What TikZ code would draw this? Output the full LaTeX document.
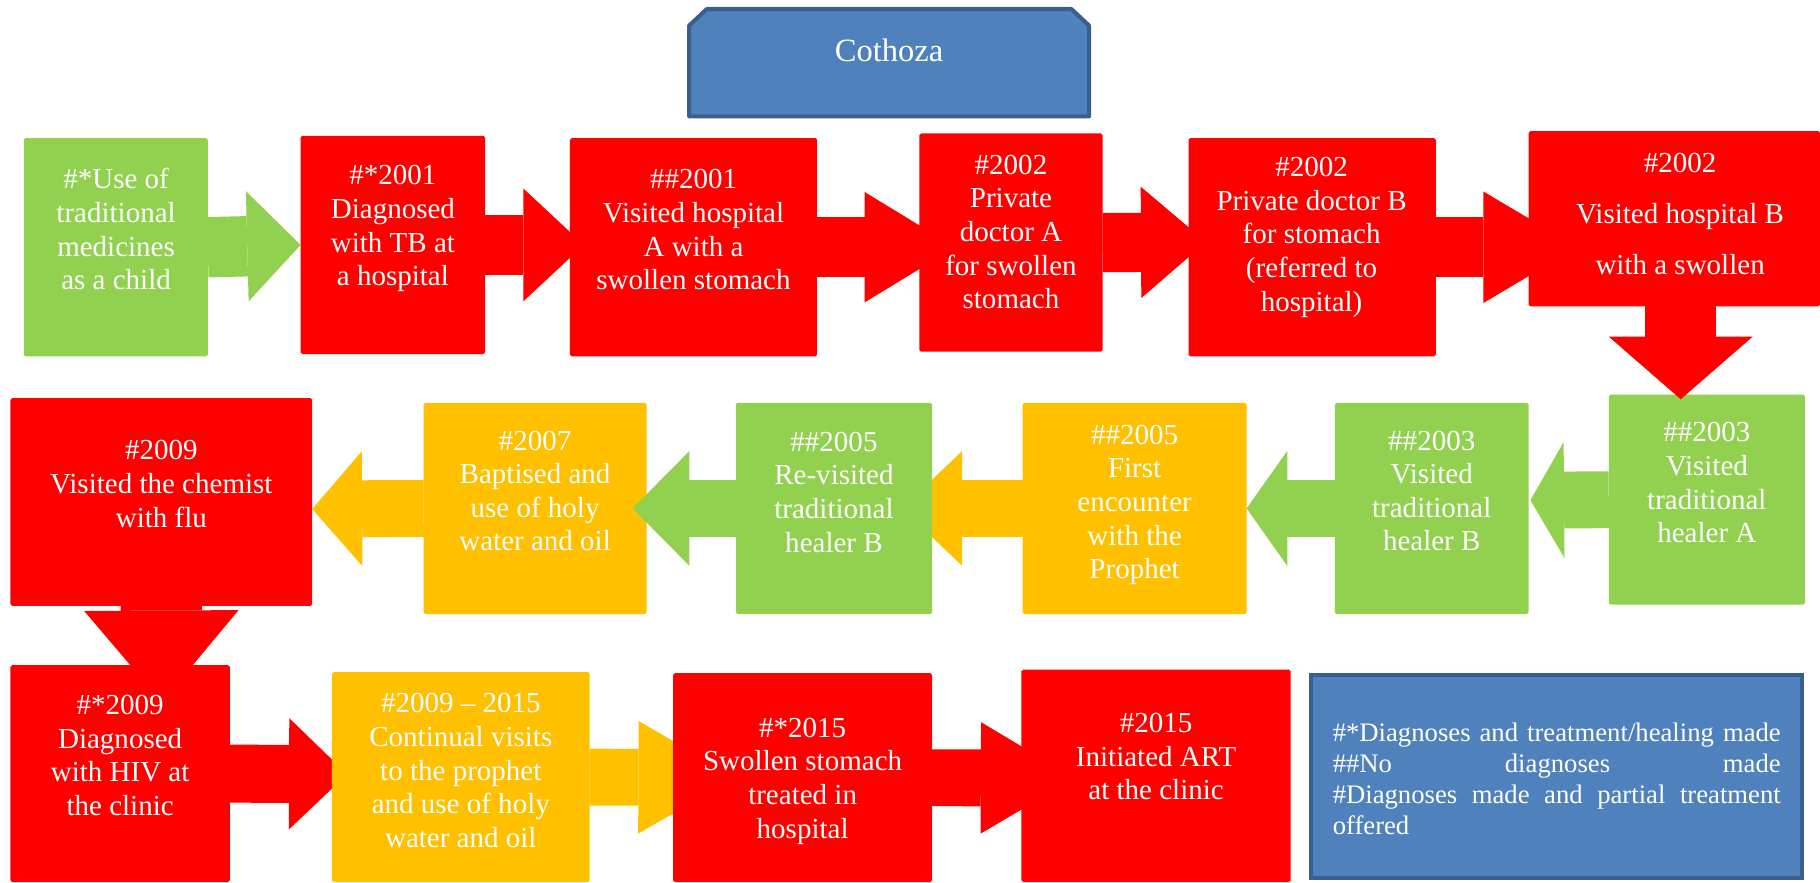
\documentclass[tikz,border=0pt]{standalone}
\usepackage{fontspec}
\setmainfont{Liberation Serif}
\usetikzlibrary{arrows.meta}
\definecolor{cred}{HTML}{FF0000}
\definecolor{cgreen}{HTML}{92D050}
\definecolor{corange}{HTML}{FFC000}
\definecolor{cblue}{HTML}{4F81BD}
\definecolor{cbord}{HTML}{3A5F8C}
\pgfdeclarelayer{back}
\pgfsetlayers{back,main}
\begin{document}
\begin{tikzpicture}[x=1pt,y=-1pt,
  blk/.style={rounded corners=1.5pt, inner sep=0pt, outer sep=0pt, anchor=north west, draw=none},
  txt/.style={text=white, align=center, inner sep=0pt, font=\fontsize{25}{29}\selectfont},
  barrow/.style n args={4}{draw=#1, line width=#2, -{Triangle[length=#3,width=#4,line width=0pt]}},
]
\useasboundingbox (0,0) rectangle (1568,760);

% ---------- title ----------
\draw[line width=3.5pt, draw=cbord, fill=cblue, line join=round]
  (593.75,100.25) -- (593.75,22) -- (609,7.75) -- (923,7.75) -- (938.25,22) -- (938.25,100.25) -- cycle;
\node[text=white, inner sep=0pt, font=\fontsize{28}{32}\selectfont] (title) at (766,43) {Cothoza};

% ---------- row 1 boxes ----------
\node[blk, fill=cgreen, minimum width=158.5pt, minimum height=188pt] (b1) at (20.5,119) {};
\node[blk, fill=cred, minimum width=159pt, minimum height=188pt] (b2) at (259,117) {};
\node[blk, fill=cred, minimum width=213pt, minimum height=188pt] (b3) at (491,119) {};
\node[blk, fill=cred, minimum width=158pt, minimum height=188pt] (b4) at (792,115) {};
\node[blk, fill=cred, minimum width=213pt, minimum height=188pt] (b5) at (1024,119) {};
\node[blk, fill=cred, minimum width=251pt, minimum height=151pt] (b6) at (1317,113) {};

% ---------- row 2 boxes ----------
\node[blk, fill=cgreen, minimum width=169pt, minimum height=181pt] (c1) at (1386,340) {};
\node[blk, fill=cgreen, minimum width=167pt, minimum height=182pt] (c2) at (1150,347) {};
\node[blk, fill=corange, minimum width=193pt, minimum height=182pt] (c3) at (881,347) {};
\node[blk, fill=cgreen, minimum width=169pt, minimum height=182pt] (c4) at (634,347) {};
\node[blk, fill=corange, minimum width=192pt, minimum height=182pt] (c5) at (365,347) {};
\node[blk, fill=cred, minimum width=260pt, minimum height=179pt] (c6) at (9,343) {};

% ---------- row 3 boxes ----------
\node[blk, fill=cred, minimum width=189pt, minimum height=187pt] (d1) at (9,573) {};
\node[blk, fill=corange, minimum width=222pt, minimum height=181pt] (d2) at (286,579) {};
\node[blk, fill=cred, minimum width=223pt, minimum height=180pt] (d3) at (580,580) {};
\node[blk, fill=cred, minimum width=232pt, minimum height=183pt] (d4) at (880,577) {};

% ---------- legend ----------
\node[draw=cbord, line width=3pt, fill=cblue, anchor=north west, inner sep=0pt,
      minimum width=423pt, minimum height=175pt] (leg) at (1128,580) {};

% ---------- arrows behind boxes ----------
\begin{pgfonlayer}{back}
\draw[barrow={cgreen}{52pt}{46pt}{95pt}] (b1.east) -- (b2.west);
\draw[barrow={cred}{51pt}{52pt}{97pt}] (b2.east) -- ([xshift=12pt,yshift=2pt]b3.west);
\draw[barrow={cred}{52pt}{78pt}{95pt}] (b3.east) -- ([xshift=31pt,yshift=-4pt]b4.west);
\draw[barrow={cred}{51pt}{56pt}{96pt}] (b4.east) -- ([xshift=15pt,yshift=4.5pt]b5.west);
\draw[barrow={cred}{52pt}{81pt}{96pt}] (b5.east) -- ([xshift=42pt,yshift=-24.5pt]b6.west);

\draw[barrow={cgreen}{49pt}{29pt}{100pt}] (c1.west) -- ([xshift=1.5pt,yshift=7pt]c2.east);
\draw[barrow={cgreen}{49pt}{35pt}{99pt}] (c2.west) -- (c3.east);
\draw[barrow={corange}{49pt}{52pt}{99pt}] (c3.west) -- ([xshift=-26pt]c4.east);
\draw[barrow={corange}{49pt}{43pt}{99pt}] (c5.west) -- ([yshift=-6pt]c6.east);
\draw[barrow={cred}{70pt}{79pt}{133pt}] (c6.south) -- ([xshift=36pt,yshift=-32pt]d1.north);

\draw[barrow={cred}{50pt}{50pt}{96pt}] (d1.east) -- ([xshift=13pt,yshift=2.5pt]d2.west);
\draw[barrow={corange}{49pt}{84pt}{97pt}] (d2.east) -- ([xshift=54pt]d3.west);
\draw[barrow={cred}{49pt}{81pt}{96pt}] (d3.east) -- ([xshift=46pt,yshift=-2pt]d4.west);
\end{pgfonlayer}

% ---------- arrows in front ----------
\draw[barrow={cred}{61.5pt}{54pt}{124pt}] ([xshift=5.5pt]b6.south) -- ([xshift=-22.5pt,yshift=-4pt]c1.north);
\draw[barrow={cgreen}{49pt}{49pt}{99pt}] (c4.west) -- ([xshift=-12pt]c5.east);

% ---------- texts ----------
\node[txt] (t1) at (100,197.5) {\#*Use of\\traditional\\medicines\\as a child};
\node[txt] (t2) at (338.5,197) {\#*2001\\Diagnosed\\with TB at\\a hospital};
\node[txt] (t3) at (597.5,198) {\#\#2001\\Visited hospital\\A with a\\swollen stomach};
\node[txt] (t4) at (871,200) {\#2002\\Private\\doctor A\\for swollen\\stomach};
\node[txt] (t5) at (1130,204.5) {\#2002\\Private doctor B\\for stomach\\(referred to\\hospital)};
\node[txt] (t6) at (1447.5,184) {\#2002\\[15pt]Visited hospital B\\[15pt]with a swollen};

\node[txt] (u1) at (1470.5,416) {\#\#2003\\Visited\\traditional\\healer A};
\node[txt] (u2) at (1233.5,423) {\#\#2003\\Visited\\traditional\\healer B};
\node[txt] (u3) at (977.5,435) {\#\#2005\\First\\encounter\\with the\\Prophet};
\node[txt] (u4) at (718.5,424) {\#\#2005\\Re-visited\\traditional\\healer B};
\node[txt] (u5) at (461,423) {\#2007\\Baptised and\\use of holy\\water and oil};
\node[txt] (u6) at (139,417) {\#2009\\Visited the chemist\\with flu};

\node[txt] (v1) at (103.5,651) {\#*2009\\Diagnosed\\with HIV at\\the clinic};
\node[txt] (v2) at (397,664) {\#2009 \textendash{} 2015\\Continual visits\\to the prophet\\and use of holy\\water and oil};
\node[txt] (v3) at (691.5,673) {\#*2015\\Swollen stomach\\treated in\\hospital};
\node[txt] (v4) at (996,652) {\#2015\\Initiated ART\\at the clinic};

\node[text=white, align=left, inner sep=0pt, anchor=west, font=\fontsize{23}{26.5}\selectfont] (legtext) at (1148,671)
 {\makebox[386pt][s]{\#*Diagnoses and treatment/healing made}\\
  \makebox[386pt][s]{\#\#No diagnoses made}\\
  \makebox[386pt][s]{\#Diagnoses made and partial treatment}\\
  offered};
\end{tikzpicture}
\end{document}
